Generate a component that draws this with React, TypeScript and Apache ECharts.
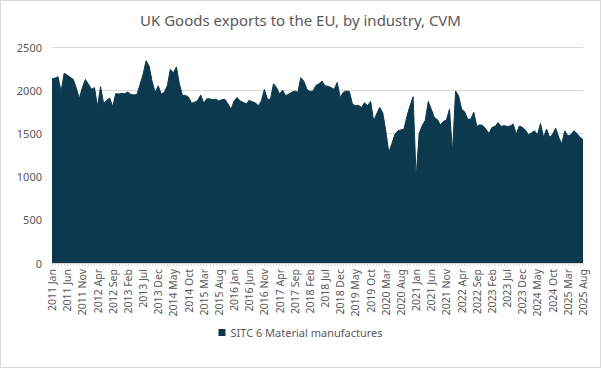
import React, { useEffect, useRef } from "react";
import * as echarts from "echarts";

const monthNames = ["Jan", "Feb", "Mar", "Apr", "May", "Jun", "Jul", "Aug", "Sep", "Oct", "Nov", "Dec"];
const startYear = 2011;
const monthCount = 176; // 2011 Jan .. 2025 Aug
const categories: string[] = [];
for (let i = 0; i < monthCount; i++) {
  categories.push(`${startYear + Math.floor(i / 12)} ${monthNames[i % 12]}`);
}

const seriesName = "SITC 6 Material manufactures";
const values: number[] = [
  2130, 2140, 2155, 1985, 2195, 2175, 2150, 2125, 2025, 1905, 2030, 2125,
  2070, 2010, 2030, 1810, 2040, 1850, 1880, 1910, 1810, 1960, 1955, 1965,
  1960, 1980, 1950, 1945, 1950, 2065, 2180, 2340, 2280, 2100, 1975, 2050,
  1955, 1975, 2050, 2240, 2200, 2270, 2070, 1940, 1940, 1920, 1850, 1860,
  1880, 1945, 1850, 1900, 1900, 1890, 1895, 1875, 1890, 1895, 1840, 1780,
  1875, 1915, 1875, 1860, 1840, 1885, 1865, 1855, 1820, 1875, 2010, 1895,
  1895, 2075, 2030, 1955, 2000, 1935, 1955, 1975, 1990, 1975, 2145, 2105,
  2010, 1985, 1990, 2055, 2075, 2105, 2050, 2045, 2030, 2010, 2090, 1915,
  1975, 1990, 1985, 1840, 1820, 1825, 1800, 1855, 1820, 1870, 1645, 1725,
  1800, 1740, 1530, 1280, 1380, 1490, 1530, 1540, 1550, 1700, 1820, 1925,
  990, 1500, 1590, 1650, 1870, 1780, 1685, 1660, 1600, 1640, 1655, 1780,
  1280, 1990, 1935, 1780, 1750, 1665, 1665, 1745, 1580, 1600, 1590, 1550,
  1500, 1570, 1580, 1625, 1580, 1590, 1580, 1585, 1610, 1490, 1585, 1570,
  1540, 1485, 1505, 1530, 1485, 1615, 1455, 1550, 1455, 1490, 1560, 1455,
  1380, 1530, 1470, 1485, 1530, 1500, 1455, 1430,
];

const yTicks = [0, 500, 1000, 1500, 2000, 2500];
const titleText = "UK Goods exports to the EU, by industry, CVM";

export default function App() {
  const ref = useRef<HTMLDivElement>(null);
  useEffect(() => {
    document.body.style.margin = "0";
    const chart = echarts.init(ref.current!, null, { renderer: "svg" });
    const textColor = "#595959";
    const font = "'Noto Sans', sans-serif";
    chart.setOption({
      animation: false,
      backgroundColor: "#ffffff",
      textStyle: { fontFamily: font },
      title: {
        text: titleText,
        left: "center",
        top: 6,
        textStyle: { color: textColor, fontSize: 15, fontWeight: "normal", fontFamily: font },
      },
      legend: {
        top: 321,
        left: "center",
        itemWidth: 7,
        itemHeight: 7,
        icon: "rect",
        textStyle: { color: textColor, fontSize: 11, fontFamily: font },
        data: [seriesName],
      },
      grid: { left: 51, right: 17, top: 46, bottom: 104, containLabel: false },
      xAxis: {
        type: "category",
        data: categories,
        boundaryGap: false,
        axisLine: { lineStyle: { color: "#d9d9d9" } },
        axisTick: { show: true, interval: 0, length: 3, lineStyle: { color: "#d9d9d9" } },
        axisLabel: {
          interval: 4,
          rotate: 90,
          color: textColor,
          fontSize: 10.5,
          fontFamily: font,
          margin: 6,
        },
      },
      yAxis: {
        type: "value",
        min: yTicks[0],
        max: yTicks[yTicks.length - 1],
        interval: 500,
        axisLine: { show: false },
        axisTick: { show: false },
        splitLine: { lineStyle: { color: "#d9d9d9" } },
        axisLabel: {
          color: textColor,
          fontSize: 11,
          fontFamily: font,
          margin: 10,
          formatter: (v: number) => String(v),
        },
      },
      series: [
        {
          name: seriesName,
          type: "line",
          data: values,
          showSymbol: false,
          symbol: "none",
          lineStyle: { color: "#0d394e", width: 1 },
          itemStyle: { color: "#0d394e" },
          areaStyle: { color: "#0d394e", opacity: 1 },
        },
      ],
    });
    return () => chart.dispose();
  }, []);
  return (
    <div
      style={{
        width: 601,
        height: 368,
        boxSizing: "border-box",
        border: "1px solid #d9d9d9",
        position: "relative",
        background: "#fff",
      }}
    >
      <div ref={ref} style={{ width: 599, height: 366 }} />
    </div>
  );
}
